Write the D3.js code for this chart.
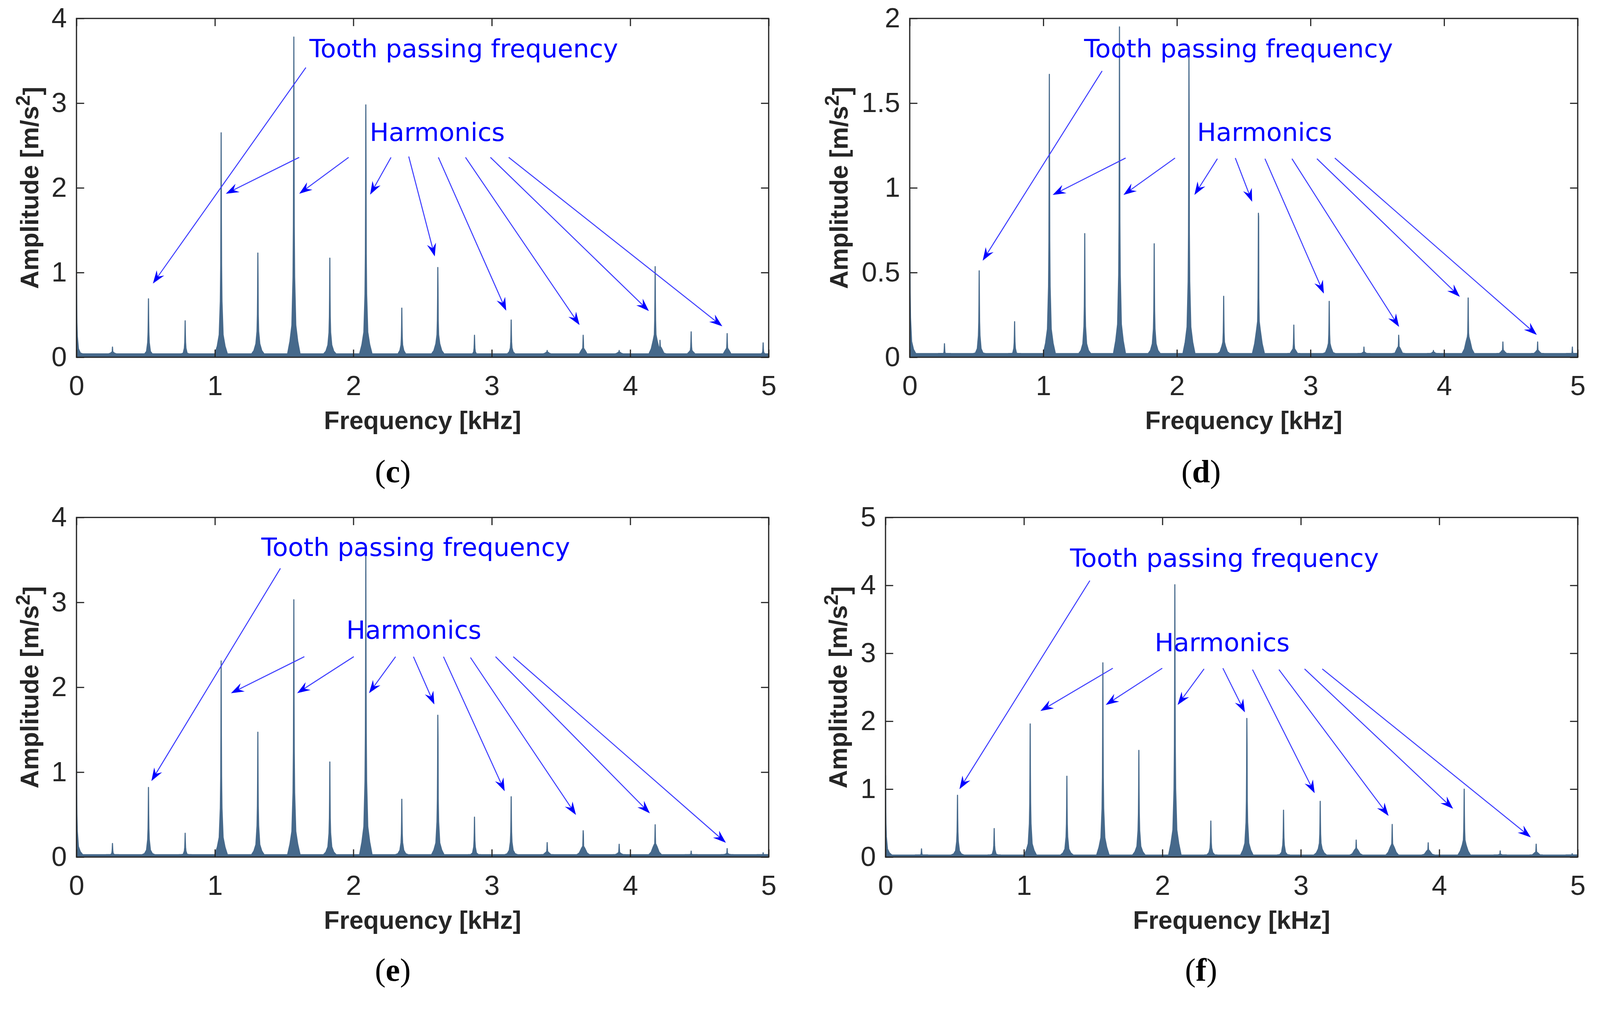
<!DOCTYPE html>
<html>
<head>
<meta charset="utf-8">
<script src="https://cdn.jsdelivr.net/npm/d3@7"></script>
<style>
html, body { margin: 0; padding: 0; background: #fff; overflow: hidden; }
#chart svg { display: block; }
</style>
</head>
<body>
<div id="chart"></div>
<script>
var W = 4163, H = 2592;

// ticks
var freqTicks = [0, 1, 2, 3, 4, 5];
var freqTickLabels = ["0", "1", "2", "3", "4", "5"];
var ampTicksC = [0, 1, 2, 3, 4];
var ampTickLabelsC = ["0", "1", "2", "3", "4"];
var ampTicksD = [0, 0.5, 1, 1.5, 2];
var ampTickLabelsD = ["0", "0.5", "1", "1.5", "2"];
var ampTicksE = [0, 1, 2, 3, 4];
var ampTickLabelsE = ["0", "1", "2", "3", "4"];
var ampTicksF = [0, 1, 2, 3, 4, 5];
var ampTickLabelsF = ["0", "1", "2", "3", "4", "5"];

// noise floor of each spectrum [m/s^2]
var floorC = 0.04, floorD = 0.022, floorE = 0.028, floorF = 0.03;

// measured shape of one spectral line: [offset kHz, fraction of peak amplitude]
var lineProfile = [
  [-0.045, 0], [-0.028, 0.05], [-0.014, 0.10], [-0.0058, 0.25], [-0.003, 0.41], [-0.0016, 0.62], [0, 1],
  [0.0016, 0.62], [0.003, 0.41], [0.0058, 0.25], [0.014, 0.10], [0.028, 0.05], [0.045, 0]
];

// peaks: [frequency kHz, peak amplitude, neighbour line amplitude, skirt amplitude]
var peaksC = [
  [0, 1.0, 0.3, 0.12], [0.26, 0.12, 0.08, 0.06], [0.52, 0.69, 0.35, 0.08], [0.785, 0.43, 0.2, 0.06],
  [1.045, 2.65, 1.1, 0.2], [1.31, 1.23, 0.9, 0.2], [1.57, 3.78, 2.55, 0.36], [1.83, 1.17, 0.55, 0.18],
  [2.09, 2.98, 2.2, 0.35], [2.35, 0.58, 0.25, 0.1], [2.61, 1.06, 0.8, 0.2], [2.875, 0.26, 0.1, 0.05],
  [3.14, 0.44, 0.2, 0.08], [3.40, 0.08, 0.06, 0.06], [3.66, 0.26, 0.2, 0.1], [3.92, 0.08, 0.06, 0.06],
  [4.18, 1.07, 0.27, 0.25], [4.215, 0.2, 0.15, 0.12], [4.44, 0.30, 0.1, 0.08], [4.70, 0.28, 0.12, 0.1],
  [4.96, 0.17, 0.08, 0.05]
];
var peaksD = [
  [0, 0.93, 0.2, 0.05], [0.26, 0.08, 0.04, 0.02], [0.52, 0.51, 0.25, 0.05], [0.785, 0.21, 0.1, 0.03],
  [1.045, 1.67, 1.10, 0.1], [1.31, 0.73, 0.47, 0.1], [1.57, 1.95, 1.2, 0.15], [1.83, 0.67, 0.36, 0.1],
  [2.09, 1.79, 1.45, 0.2], [2.35, 0.36, 0.2, 0.08], [2.61, 0.85, 0.83, 0.2], [2.875, 0.19, 0.11, 0.05],
  [3.14, 0.33, 0.14, 0.07], [3.40, 0.06, 0.04, 0.03], [3.66, 0.13, 0.1, 0.06], [3.92, 0.04, 0.03, 0.03],
  [4.18, 0.35, 0.22, 0.12], [4.44, 0.09, 0.05, 0.04], [4.70, 0.09, 0.05, 0.04], [4.96, 0.06, 0.03, 0.02]
];
var peaksE = [
  [0, 1.23, 0.2, 0.08], [0.26, 0.16, 0.05, 0.03], [0.52, 0.82, 0.35, 0.08], [0.785, 0.28, 0.1, 0.04],
  [1.045, 2.31, 1.0, 0.15], [1.31, 1.47, 0.8, 0.15], [1.57, 3.03, 1.62, 0.33], [1.83, 1.12, 0.73, 0.15],
  [2.09, 3.58, 2.0, 0.35], [2.35, 0.68, 0.32, 0.1], [2.61, 1.67, 1.41, 0.2], [2.875, 0.47, 0.2, 0.06],
  [3.14, 0.71, 0.3, 0.1], [3.40, 0.17, 0.1, 0.06], [3.66, 0.31, 0.27, 0.12], [3.92, 0.15, 0.08, 0.05],
  [4.18, 0.38, 0.16, 0.15], [4.44, 0.07, 0.04, 0.03], [4.70, 0.10, 0.05, 0.04], [4.96, 0.05, 0.03, 0.02]
];
var peaksF = [
  [0, 1.2, 0.2, 0.05], [0.26, 0.12, 0.05, 0.02], [0.52, 0.91, 0.4, 0.08], [0.785, 0.42, 0.15, 0.05],
  [1.045, 1.96, 0.9, 0.12], [1.31, 1.19, 0.7, 0.15], [1.57, 2.86, 1.2, 0.3], [1.83, 1.57, 0.75, 0.15],
  [2.09, 4.01, 2.15, 0.4], [2.35, 0.53, 0.25, 0.08], [2.61, 2.04, 1.65, 0.25], [2.875, 0.69, 0.2, 0.08],
  [3.14, 0.82, 0.35, 0.15], [3.40, 0.25, 0.15, 0.12], [3.66, 0.48, 0.3, 0.18], [3.92, 0.21, 0.12, 0.1],
  [4.18, 1.0, 0.35, 0.22], [4.44, 0.09, 0.05, 0.04], [4.70, 0.19, 0.1, 0.07], [4.96, 0.05, 0.03, 0.02]
];

// annotations, data coords: arrows [f0, a0, f1, a1], text anchors [f, a]
var toothArrowC = [1.657, 3.42, 0.552, 0.87];
var harmArrowsC = [
  [1.609, 2.36, 1.079, 1.93], [1.966, 2.36, 1.609, 1.93], [2.272, 2.36, 2.121, 1.92], [2.40, 2.37, 2.588, 1.19],
  [2.614, 2.36, 3.104, 0.55], [2.81, 2.36, 3.634, 0.38], [2.99, 2.36, 4.135, 0.545], [3.122, 2.36, 4.665, 0.365]
];
var toothTextC = [1.682, 3.54], harmTextC = [2.118, 2.553];

var toothArrowD = [1.44, 1.69, 0.546, 0.57];
var harmArrowsD = [
  [1.616, 1.176, 1.07, 0.958], [1.986, 1.176, 1.60, 0.958], [2.303, 1.172, 2.131, 0.958], [2.437, 1.176, 2.563, 0.918],
  [2.659, 1.172, 3.10, 0.376], [2.861, 1.172, 3.663, 0.179], [3.048, 1.172, 4.118, 0.357], [3.182, 1.176, 4.694, 0.132]
];
var toothTextD = [1.305, 1.769], harmTextD = [2.151, 1.277];

var toothArrowE = [1.473, 3.40, 0.541, 0.895];
var harmArrowsE = [
  [1.646, 2.36, 1.116, 1.93], [2.003, 2.36, 1.594, 1.93], [2.305, 2.36, 2.113, 1.93], [2.434, 2.36, 2.585, 1.797],
  [2.651, 2.36, 3.093, 0.775], [2.846, 2.35, 3.608, 0.496], [3.027, 2.36, 4.142, 0.514], [3.155, 2.36, 4.691, 0.168]
];
var toothTextE = [1.335, 3.548], harmTextE = [1.949, 2.570];

var toothArrowF = [1.476, 4.07, 0.534, 1.0];
var harmArrowsF = [
  [1.642, 2.78, 1.119, 2.15], [1.999, 2.78, 1.591, 2.24], [2.301, 2.77, 2.11, 2.24], [2.437, 2.78, 2.596, 2.13],
  [2.651, 2.76, 3.10, 0.94], [2.842, 2.76, 3.634, 0.606], [3.027, 2.77, 4.10, 0.71], [3.155, 2.77, 4.661, 0.29]
];
var toothTextF = [1.333, 4.27], harmTextF = [1.944, 3.03];

var panels = [
  { tag: "c", peaks: peaksC, floor: floorC, ymax: 4, yt: ampTicksC, ytl: ampTickLabelsC,
    tooth: toothArrowC, harm: harmArrowsC, toothText: toothTextC, harmText: harmTextC,
    left: 199, top: 48, width: 1801, height: 882, ylabGap: 99, capX: 1022, capY: 1255 },
  { tag: "d", peaks: peaksD, floor: floorD, ymax: 2, yt: ampTicksD, ytl: ampTickLabelsD,
    tooth: toothArrowD, harm: harmArrowsD, toothText: toothTextD, harmText: harmTextD,
    left: 2367, top: 48, width: 1738, height: 882, ylabGap: 162, capX: 3125, capY: 1255 },
  { tag: "e", peaks: peaksE, floor: floorE, ymax: 4, yt: ampTicksE, ytl: ampTickLabelsE,
    tooth: toothArrowE, harm: harmArrowsE, toothText: toothTextE, harmText: harmTextE,
    left: 199, top: 1347, width: 1801, height: 884, ylabGap: 99, capX: 1022, capY: 2553 },
  { tag: "f", peaks: peaksF, floor: floorF, ymax: 5, yt: ampTicksF, ytl: ampTickLabelsF,
    tooth: toothArrowF, harm: harmArrowsF, toothText: toothTextF, harmText: harmTextF,
    left: 2304, top: 1347, width: 1801, height: 884, ylabGap: 101, capX: 3125, capY: 2553 }
];

var axisColor = "#262626";
var specColor = "#46698b";
var annColor = "#0000ff";

var svg = d3.select("#chart").append("svg")
  .attr("viewBox", "0 0 " + W + " " + H)
  .attr("preserveAspectRatio", "xMinYMin meet")
  .style("width", "100vw")
  .style("height", "100vh")
  .style("background", "#fff");

// one spectral line built from the measured profile, lifted by skirt / neighbour line
function peakShape(p, floor) {
  var f = p[0], a = p[1], sh = p[2], sk = p[3];
  return lineProfile.map(function(q) {
    var v = q[1] * a;
    var ad = Math.abs(q[0]);
    if (ad <= 0.006) v = Math.max(v, sk);
    else if (ad <= 0.014) v = Math.max(v, sk * 0.8);
    else if (ad <= 0.028) v = Math.max(v, sk * 0.4);
    if (q[0] > 0 && q[0] <= 0.0016) v = Math.max(v, sh);
    return [f + q[0], Math.max(v, floor)];
  });
}

function drawArrow(g, x, y, a) {
  var x0 = x(a[0]), y0 = y(a[1]), x1 = x(a[2]), y1 = y(a[3]);
  var ang = Math.atan2(y1 - y0, x1 - x0);
  var c = Math.cos(ang), s = Math.sin(ang);
  var len = 34, hw = 12, notch = 22;
  g.append("line")
    .attr("x1", x0).attr("y1", y0)
    .attr("x2", x1 - notch * c).attr("y2", y1 - notch * s)
    .style("stroke", "#3c3cff")
    .style("stroke-width", 2.6);
  var bx = x1 - len * c, by = y1 - len * s;
  var head = [
    [x1, y1],
    [bx + hw * s, by - hw * c],
    [x1 - notch * c, y1 - notch * s],
    [bx - hw * s, by + hw * c]
  ];
  g.append("path")
    .attr("d", "M" + head.map(function(p) { return p[0] + "," + p[1]; }).join("L") + "Z")
    .style("fill", annColor);
}

panels.forEach(function(p) {
  var x = d3.scaleLinear().domain([0, 5]).range([p.left, p.left + p.width]);
  var y = d3.scaleLinear().domain([0, p.ymax]).range([p.top + p.height, p.top]);
  var g = svg.append("g").attr("class", "panel-" + p.tag);

  var clipId = "clip" + p.tag;
  svg.append("clipPath").attr("id", clipId)
    .append("rect")
    .attr("x", p.left).attr("y", p.top)
    .attr("width", p.width).attr("height", p.height);

  var area = d3.area()
    .x(function(d) { return x(d[0]); })
    .y0(y(0))
    .y1(function(d) { return y(d[1]); });

  var spec = g.append("g").attr("clip-path", "url(#" + clipId + ")");
  spec.append("path")
    .attr("d", area([[0, p.floor], [5, p.floor]]))
    .style("fill", specColor)
    .style("stroke", specColor)
    .style("stroke-width", 2.5);
  spec.selectAll(".peak").data(p.peaks).enter().append("path")
    .attr("class", "peak")
    .attr("d", function(d) { return area(peakShape(d, p.floor)); })
    .style("fill", specColor)
    .style("stroke", specColor)
    .style("stroke-width", 2.8)
    .style("stroke-linejoin", "round");

  // axes
  var xb = g.append("g").attr("transform", "translate(0," + (p.top + p.height) + ")")
    .call(d3.axisBottom(x).tickValues(freqTicks)
      .tickFormat(function(d, i) { return freqTickLabels[i]; })
      .tickSizeInner(-20).tickSizeOuter(0).tickPadding(47));
  var xt = g.append("g").attr("transform", "translate(0," + p.top + ")")
    .call(d3.axisTop(x).tickValues(freqTicks).tickFormat("")
      .tickSizeInner(-20).tickSizeOuter(0));
  var yl = g.append("g").attr("transform", "translate(" + p.left + ",0)")
    .call(d3.axisLeft(y).tickValues(p.yt)
      .tickFormat(function(d, i) { return p.ytl[i]; })
      .tickSizeInner(-20).tickSizeOuter(0).tickPadding(25));
  var yr = g.append("g").attr("transform", "translate(" + (p.left + p.width) + ",0)")
    .call(d3.axisRight(y).tickValues(p.yt).tickFormat("")
      .tickSizeInner(-20).tickSizeOuter(0));

  [xb, xt, yl, yr].forEach(function(ax) {
    ax.select(".domain").remove();
    ax.selectAll("line").style("stroke", axisColor).style("stroke-width", 3);
    ax.selectAll("text")
      .style("font-family", "'Liberation Sans', Arial, sans-serif")
      .style("font-size", "72px")
      .style("fill", axisColor);
  });

  g.append("rect")
    .attr("x", p.left).attr("y", p.top)
    .attr("width", p.width).attr("height", p.height)
    .style("fill", "none")
    .style("stroke", axisColor)
    .style("stroke-width", 3.2);

  // axis labels
  g.append("text")
    .attr("x", p.left + p.width / 2)
    .attr("y", p.top + p.height + 187)
    .attr("text-anchor", "middle")
    .style("font-family", "'Liberation Sans', Arial, sans-serif")
    .style("font-weight", "bold")
    .style("font-size", "66px")
    .style("fill", axisColor)
    .text("Frequency [kHz]");

  var ylab = g.append("text")
    .attr("transform", "translate(" + (p.left - p.ylabGap) + "," + (p.top + p.height / 2) + ") rotate(-90)")
    .attr("text-anchor", "middle")
    .style("font-family", "'Liberation Sans', Arial, sans-serif")
    .style("font-weight", "bold")
    .style("font-size", "66px")
    .style("fill", axisColor);
  ylab.append("tspan").text("Amplitude [m/s");
  ylab.append("tspan").attr("dy", "-0.45em").style("font-size", "50px").text("2");
  ylab.append("tspan").attr("dy", "0.45em").text("]");

  // annotations
  var ann = g.append("g");
  drawArrow(ann, x, y, p.tooth);
  p.harm.forEach(function(a) { drawArrow(ann, x, y, a); });

  ann.append("text")
    .attr("x", x(p.toothText[0])).attr("y", y(p.toothText[1]))
    .style("font-family", "'DejaVu Sans', sans-serif")
    .style("font-size", "66px")
    .style("fill", annColor)
    .text("Tooth passing frequency");
  ann.append("text")
    .attr("x", x(p.harmText[0])).attr("y", y(p.harmText[1]))
    .style("font-family", "'DejaVu Sans', sans-serif")
    .style("font-size", "66px")
    .style("fill", annColor)
    .text("Harmonics");

  // caption
  var cap = svg.append("text")
    .attr("x", p.capX).attr("y", p.capY)
    .attr("text-anchor", "middle")
    .style("font-family", "'Liberation Serif', 'Times New Roman', serif")
    .style("font-size", "84px")
    .style("fill", "#000");
  cap.append("tspan").text("(");
  cap.append("tspan").style("font-weight", "bold").text(p.tag);
  cap.append("tspan").text(")");
});
</script>
</body>
</html>
